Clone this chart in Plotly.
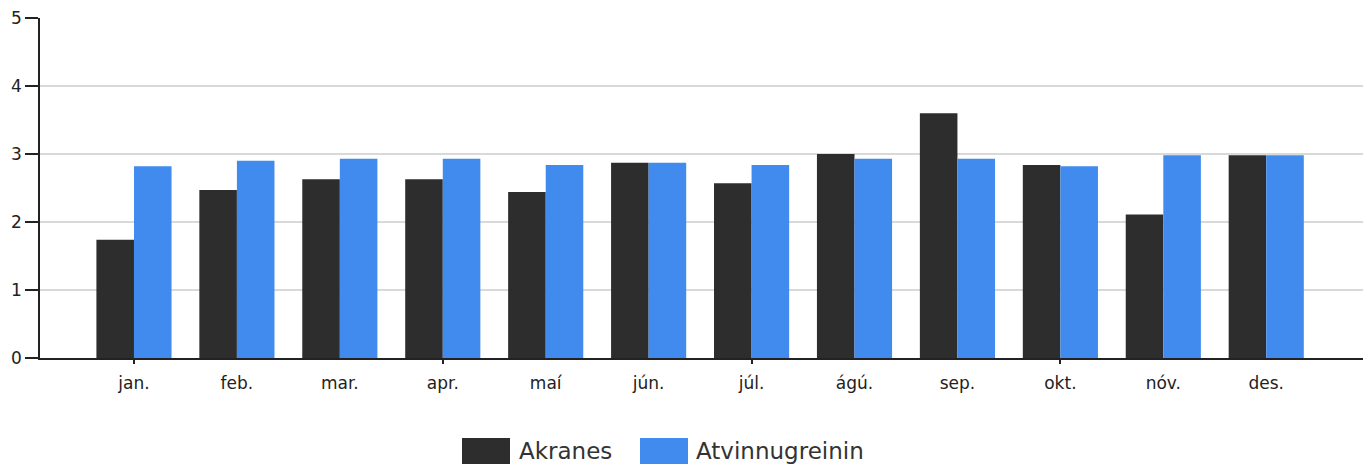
import plotly.graph_objects as go

months = ["jan.", "feb.", "mar.", "apr.", "maí", "jún.", "júl.", "ágú.", "sep.", "okt.", "nóv.", "des."]
akranes = [1.74, 2.47, 2.63, 2.63, 2.44, 2.87, 2.57, 3.00, 3.60, 2.84, 2.11, 2.98]
atvinnugreinin = [2.82, 2.90, 2.93, 2.93, 2.84, 2.87, 2.84, 2.93, 2.93, 2.82, 2.98, 2.98]
series_names = ["Akranes", "Atvinnugreinin"]
colors = ["#2d2d2d", "#418bee"]
y_ticks = [0, 1, 2, 3, 4, 5]

x = list(range(len(months)))
W, H = 1363, 466
ml, mr, mt, mb = 40, 0, 18, 108

fig = go.Figure()
for name, vals, c in zip(series_names, [akranes, atvinnugreinin], colors):
    fig.add_trace(go.Bar(x=x, y=vals, name=name, marker=dict(color=c, line=dict(width=0)),
                         showlegend=False))

# invisible trace to activate xaxis2 for the small tick marks
fig.add_trace(go.Scatter(x=[0], y=[0], xaxis="x2", mode="markers",
                         marker=dict(opacity=0), showlegend=False, hoverinfo="skip"))

xr = [-0.913, 11.94]
fig.update_layout(
    width=W, height=H,
    margin=dict(l=ml, r=mr, t=mt, b=mb),
    paper_bgcolor="white", plot_bgcolor="white",
    barmode="group", bargap=0.27, bargroupgap=0,
    font=dict(family="DejaVu Sans", color="#222"),
    xaxis=dict(range=xr, tickvals=x, ticktext=months, showgrid=False,
               showline=True, linecolor="#222", linewidth=1.5,
               ticks="outside", ticklen=9, tickcolor="rgba(0,0,0,0)",
               tickfont=dict(size=17, color="#222"), zeroline=False),
    xaxis2=dict(range=xr, overlaying="x", side="bottom", anchor="y",
                tickvals=[0, 3, 6, 9], showticklabels=False, ticks="outside",
                ticklen=5, tickcolor="#222", tickwidth=1.5, showgrid=False,
                showline=False, zeroline=False),
    yaxis=dict(range=[0, 5], tickvals=y_ticks, showgrid=True, gridcolor="#d9d9d9",
               gridwidth=1.5, showline=True, linecolor="#222", linewidth=1.5,
               ticks="outside", ticklen=13, tickcolor="#222", tickwidth=1.5,
               tickfont=dict(size=17, color="#222"), zeroline=False),
)

# manual legend (large swatches like the reference)
pw = W - ml - mr
ph = H - mt - mb
def px2x(p):
    return (p - ml) / pw
def py2y(p):
    return (H - mb - p) / ph

legend_items = [(462, 510, 517), (640, 688, 694)]
for (x0, x1, tx), name, c in zip(legend_items, series_names, colors):
    fig.add_shape(type="rect", xref="paper", yref="paper",
                  x0=px2x(x0), x1=px2x(x1), y0=py2y(464), y1=py2y(438),
                  fillcolor=c, line=dict(width=0))
    fig.add_annotation(xref="paper", yref="paper", x=px2x(tx), y=py2y(451),
                       text=name, showarrow=False, xanchor="left", yanchor="middle",
                       font=dict(size=23, color="#333", family="DejaVu Sans"))

fig.write_html("out.html", config={"displayModeBar": False},
               post_script="document.body.style.margin='0';document.body.style.overflow='hidden';")
